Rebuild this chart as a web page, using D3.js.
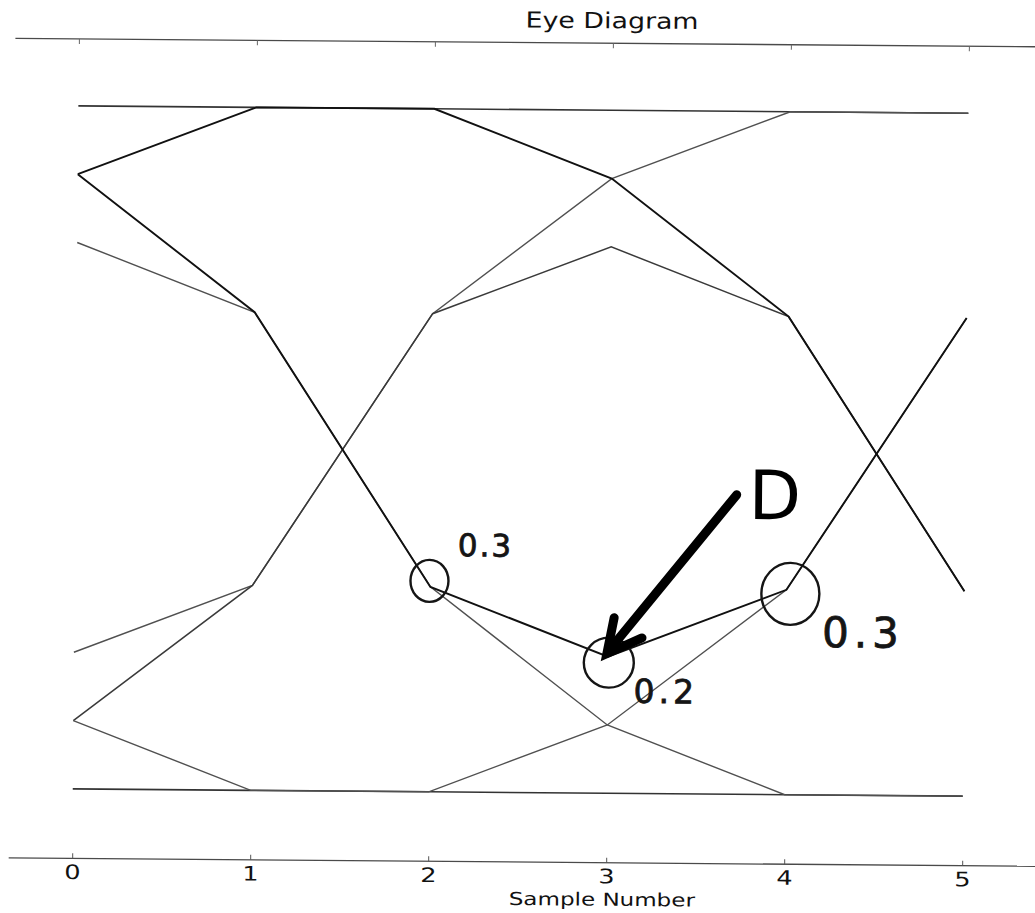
<!DOCTYPE html>
<html>
<head>
<meta charset="utf-8">
<script src="https://cdn.jsdelivr.net/npm/d3@7"></script>
<style>
  html, body { margin: 0; padding: 0; background: #fff; }
  svg { display: block; }
  text { font-family: "DejaVu Sans", sans-serif; }
</style>
</head>
<body>
<svg id="chart" width="1035" height="913"></svg>
<script>
// Sample instants along the x axis
const samples = [0, 1, 2, 3, 4, 5];
const tickValues = [0, 1, 2, 3, 4, 5];

// Received levels of each overlaid trace at the sample instants
const traceHigh    = [1, 1, 1, 1, 1, 1];
const traceLow     = [-1, -1, -1, -1, -1, -1];
const traceFallA   = [0.8, 1, 1, 0.8, 0.4, -0.4];
const traceFallB   = [0.8, 0.4, -0.4, -0.6, -0.4, 0.4];
const traceFallC   = [0.6, 0.4, -0.4, -0.8, -1, -1];
const traceRiseA   = [-0.6, -0.4, 0.4, 0.8, 1, 1];
const traceRiseB   = [-0.8, -0.4, 0.4, 0.6, 0.4, -0.4];
const traceRiseC   = [-0.8, -1, -1, -0.8, -0.4, 0.4];

// Hand-marked samples on the highlighted trace, with the noted margins
const markedSamples = [2, 3, 4];
const markedValues  = [-0.4, -0.6, -0.4];
const markedNotes   = ["0.3", "0.2", "0.3"];

const title = "Eye Diagram";
const xLabel = "Sample Number";

const svg = d3.select("#chart");
// the whole sheet sits at a slight tilt
const g = svg.append("g").attr("transform", "rotate(0.47, 517, 456)");

const x = d3.scaleLinear().domain([0, 5]).range([75.5, 965.5]);
const y = d3.scaleLinear().domain([-1, 1]).range([792.5, 109.5]);

const frameTop = 42.5, frameBottom = 862, frameLeft = 12, frameRight = 1060;
const centerX = 608.5;
const textStretch = 1.28;   // printed type is set wide

// spines
[frameTop, frameBottom].forEach(fy => {
  g.append("line").attr("x1", frameLeft).attr("x2", frameRight)
    .attr("y1", fy).attr("y2", fy)
    .attr("stroke", "#4a4a4a").attr("stroke-width", 1.3);
});

// bottom axis: inward ticks and labels
const bottomAxis = d3.axisBottom(x).tickValues(tickValues)
  .tickSizeInner(-5).tickSizeOuter(0).tickPadding(6.5)
  .tickFormat(d3.format("d"));
const bx = g.append("g").attr("transform", `translate(0,${frameBottom})`).call(bottomAxis);
bx.select(".domain").remove();
bx.selectAll(".tick line").attr("stroke", "#555").attr("stroke-width", 1);
bx.selectAll(".tick text").attr("font-size", 20).attr("fill", "#111")
  .attr("font-family", "DejaVu Sans, sans-serif")
  .attr("transform", `scale(${textStretch},1)`);

// top axis: inward ticks only
const topAxis = d3.axisTop(x).tickValues(tickValues)
  .tickSizeInner(-5).tickSizeOuter(0).tickFormat("");
const tx = g.append("g").attr("transform", `translate(0,${frameTop})`).call(topAxis);
tx.select(".domain").remove();
tx.selectAll(".tick line").attr("stroke", "#666").attr("stroke-width", 1);

// title and axis label
g.append("text")
  .attr("transform", `translate(${centerX},27.5) scale(1.22,1)`)
  .attr("text-anchor", "middle").attr("font-size", 22).attr("fill", "#111")
  .text(title);
g.append("text")
  .attr("transform", `translate(${centerX - 3},905) scale(${textStretch},1)`)
  .attr("text-anchor", "middle").attr("font-size", 18).attr("fill", "#111")
  .text(xLabel);

// traces
const line = d3.line().x((d, i) => x(samples[i])).y(d => y(d));
const traces = [
  { v: traceHigh,  c: "#333", w: 1.6 },
  { v: traceLow,   c: "#333", w: 1.6 },
  { v: traceFallC, c: "#505050", w: 1.4 },
  { v: traceRiseA, c: "#505050", w: 1.4 },
  { v: traceRiseB, c: "#3a3a3a", w: 1.5 },
  { v: traceRiseC, c: "#505050", w: 1.4 },
  { v: traceFallA, c: "#111", w: 1.9 },
  { v: traceFallB, c: "#111", w: 1.9 }
];
g.append("g").selectAll("path").data(traces).join("path")
  .attr("d", d => line(d.v))
  .attr("fill", "none")
  .attr("stroke", d => d.c)
  .attr("stroke-width", d => d.w)
  .attr("stroke-linejoin", "miter");

// hand-drawn marks around the sampled points
const ink = "#151515";
const circleOffsets = [[-1, -6, 19, 21], [1, 6, 25, 25], [4, 4, 29, 31]];
const notes = g.append("g");
markedSamples.forEach((s, i) => {
  const [dx, dy, rx, ry] = circleOffsets[i];
  notes.append("ellipse")
    .attr("cx", x(s) + dx).attr("cy", y(markedValues[i]) + dy)
    .attr("rx", rx).attr("ry", ry)
    .attr("fill", "none").attr("stroke", ink).attr("stroke-width", 2.4);
});
// [dx, dy, font size, letter spacing]
const noteOffsets = [[27, -31, 31, 2], [26, 46, 33, 4], [36, 57, 42, 5]];
markedSamples.forEach((s, i) => {
  const [dx, dy, fs, ls] = noteOffsets[i];
  notes.append("text")
    .attr("x", x(s) + dx).attr("y", y(markedValues[i]) + dy)
    .attr("font-size", fs).attr("font-family", "DejaVu Sans Mono, monospace")
    .attr("letter-spacing", ls)
    .attr("fill", ink).attr("stroke", ink).attr("stroke-width", 0.8)
    .text(markedNotes[i]);
});

// the "D" callout and its arrow to the middle marked sample
const tipX = x(markedSamples[1]) - 1, tipY = y(markedValues[1]) - 3;
const tailX = 737, tailY = 493;
notes.append("line").attr("x1", tailX).attr("y1", tailY)
  .attr("x2", tipX + 6).attr("y2", tipY - 8)
  .attr("stroke", "#000").attr("stroke-width", 9).attr("stroke-linecap", "round");
notes.append("path")
  .attr("d", `M${tipX + 7},${tipY - 36} L${tipX},${tipY} L${tipX + 35},${tipY - 16}`)
  .attr("fill", "none").attr("stroke", "#000").attr("stroke-width", 9)
  .attr("stroke-linejoin", "miter").attr("stroke-linecap", "round");
notes.append("text").attr("x", 749).attr("y", 517)
  .attr("font-size", 68).attr("font-family", "Liberation Sans, Arial, sans-serif")
  .attr("fill", "#000").text("D");
</script>
</body>
</html>
